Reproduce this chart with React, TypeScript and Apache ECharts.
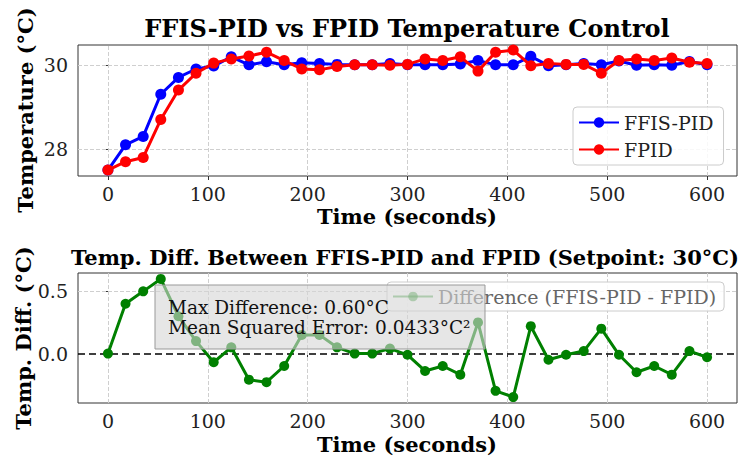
import React, { useEffect, useRef } from "react";
import * as echarts from "echarts";

const times = [0, 17.6, 35.3, 52.9, 70.6, 88.2, 105.9, 123.5, 141.2, 158.8, 176.5, 194.1, 211.8, 229.4, 247.1, 264.7, 282.4, 300, 317.6, 335.3, 352.9, 370.6, 388.2, 405.9, 423.5, 441.2, 458.8, 476.5, 494.1, 511.8, 529.4, 547.1, 564.7, 582.4, 600];
const ffisPid = [27.5, 28.1, 28.3, 29.3, 29.7, 29.9, 29.97, 30.19, 30.0, 30.07, 30.0, 30.05, 30.03, 30.01, 30.0, 30.0, 30.03, 30.0, 30.0, 30.0, 30.02, 30.1, 30.0, 30.0, 30.2, 29.98, 30.0, 30.03, 30.0, 30.09, 29.99, 30.0, 29.99, 30.08, 30.0];
const fpid = [27.5, 27.7, 27.8, 28.7, 29.4, 29.8, 30.04, 30.14, 30.21, 30.3, 30.1, 29.9, 29.88, 29.96, 30.0, 30.0, 29.99, 30.01, 30.14, 30.1, 30.19, 29.85, 30.3, 30.35, 29.98, 30.03, 30.01, 30.01, 29.8, 30.1, 30.14, 30.1, 30.16, 30.06, 30.03];
const difference = [0, 0.4, 0.5, 0.6, 0.3, 0.1, -0.07, 0.05, -0.21, -0.23, -0.1, 0.15, 0.15, 0.05, 0.0, 0.0, 0.04, -0.01, -0.14, -0.1, -0.17, 0.25, -0.3, -0.35, 0.22, -0.05, -0.01, 0.02, 0.2, -0.01, -0.15, -0.1, -0.17, 0.02, -0.03];

const xTicks = [0, 100, 200, 300, 400, 500, 600];
const topYTicks = [28, 30];
const bottomYTicks = [0, 0.5];

const FONT = '"DejaVu Serif", serif';

export default function App() {
  const ref = useRef<HTMLDivElement>(null);
  useEffect(() => {
    if (!ref.current) return;
    const chart = echarts.init(ref.current, null, { renderer: "svg" });

    const gridLine = { type: "dashed", color: "#cfcfcf", width: 1 };
    const mkGrid = (yTicks: number[]) => ({
      silent: true,
      symbol: "none",
      label: { show: false },
      lineStyle: gridLine,
      emphasis: { disabled: true },
      data: [
        ...xTicks.map((v) => ({ xAxis: v })),
        ...yTicks.map((v) => ({ yAxis: v })),
      ],
    });

    const axisLabel = { fontFamily: FONT, fontSize: 19, color: "#222" };
    const xAxisBase = {
      type: "value",
      min: -30,
      max: 630,
      axisLine: { show: false },
      axisTick: { show: true, length: 4, lineStyle: { color: "#333" }, customValues: xTicks },
      axisLabel: { ...axisLabel, margin: 8, customValues: xTicks },
      splitLine: { show: false },
    };

    chart.setOption({
      animation: false,
      backgroundColor: "#fff",
      grid: [
        { left: 78, top: 45, width: 659, height: 131, show: true, borderColor: "#333", borderWidth: 1, backgroundColor: "transparent" },
        { left: 78, top: 273, width: 659, height: 130, show: true, borderColor: "#333", borderWidth: 1, backgroundColor: "transparent" },
      ],
      xAxis: [
        { ...xAxisBase, gridIndex: 0 },
        { ...xAxisBase, gridIndex: 1 },
      ],
      yAxis: [
        {
          type: "value",
          gridIndex: 0,
          min: 27.36,
          max: 30.47,
          axisLine: { show: false },
          axisTick: { show: true, length: 4, lineStyle: { color: "#333" }, customValues: topYTicks },
          axisLabel: { ...axisLabel, margin: 10, customValues: topYTicks },
          splitLine: { show: false },
        },
        {
          type: "value",
          gridIndex: 1,
          min: -0.3975,
          max: 0.6475,
          axisLine: { show: false },
          axisTick: { show: true, length: 4, lineStyle: { color: "#333" }, customValues: bottomYTicks },
          axisLabel: { ...axisLabel, margin: 10, customValues: bottomYTicks, formatter: (v: number) => v.toFixed(1) },
          splitLine: { show: false },
        },
      ],
      legend: [
        {
          z: 20,
          left: 573,
          top: 107,
          orient: "vertical",
          itemWidth: 40,
          itemHeight: 13,
          itemGap: 8,
          padding: [6, 10, 6, 5],
          backgroundColor: "rgba(255,255,255,0.85)",
          borderColor: "#cccccc",
          borderWidth: 1,
          borderRadius: 4,
          textStyle: { fontFamily: FONT, fontSize: 19, color: "#222" },
          data: ["FFIS-PID", "FPID"],
        },
        {
          z: 20,
          left: 387,
          top: 282,
          itemWidth: 40,
          itemHeight: 12,
          padding: [5, 8, 5, 5],
          backgroundColor: "rgba(255,255,255,0.85)",
          borderColor: "#cccccc",
          borderWidth: 1,
          borderRadius: 4,
          textStyle: { fontFamily: FONT, fontSize: 19, color: "#666" },
          itemStyle: { opacity: 0.55 },
          lineStyle: { opacity: 0.55 },
          data: ["Difference (FFIS-PID - FPID)"],
        },
      ],
      series: [
        {
          name: "FFIS-PID",
          type: "line",
          xAxisIndex: 0,
          yAxisIndex: 0,
          z: 10,
          data: times.map((t, i) => [t, ffisPid[i]]),
          symbol: "circle",
          symbolSize: 11,
          lineStyle: { color: "#0000ff", width: 3 },
          itemStyle: { color: "#0000ff" },
          markLine: mkGrid(topYTicks),
        },
        {
          name: "FPID",
          type: "line",
          xAxisIndex: 0,
          yAxisIndex: 0,
          z: 11,
          data: times.map((t, i) => [t, fpid[i]]),
          symbol: "circle",
          symbolSize: 11,
          lineStyle: { color: "#ff0000", width: 3 },
          itemStyle: { color: "#ff0000" },
        },
        {
          name: "Difference (FFIS-PID - FPID)",
          type: "line",
          xAxisIndex: 1,
          yAxisIndex: 1,
          z: 10,
          data: times.map((t, i) => [t, difference[i]]),
          symbol: "circle",
          symbolSize: 10,
          lineStyle: { color: "#008000", width: 3 },
          itemStyle: { color: "#008000" },
          markLine: {
            ...mkGrid(bottomYTicks),
            data: [
              ...xTicks.map((v) => ({ xAxis: v })),
              ...bottomYTicks.filter((v) => v !== 0).map((v) => ({ yAxis: v })),
              { yAxis: 0, lineStyle: { type: [7, 4], color: "#000", width: 1.6 } },
            ],
          },
        },
      ],
      graphic: [
        {
          type: "text",
          z: 40,
          x: 407,
          y: 28,
          style: { text: "FFIS-PID vs FPID Temperature Control", font: `bold 24px ${FONT}`, fill: "#000", align: "center", verticalAlign: "middle" },
        },
        {
          type: "text",
          z: 40,
          x: 407,
          y: 216,
          style: { text: "Time (seconds)", font: `bold 21px ${FONT}`, fill: "#000", align: "center", verticalAlign: "middle" },
        },
        {
          type: "text",
          z: 40,
          x: 25,
          y: 110,
          rotation: Math.PI / 2,
          style: { text: "Temperature (°C)", font: `bold 21px ${FONT}`, fill: "#000", align: "center", verticalAlign: "middle" },
        },
        {
          type: "text",
          z: 40,
          x: 405,
          y: 257,
          style: { text: "Temp. Diff. Between FFIS-PID and FPID (Setpoint: 30°C)", font: `bold 21px ${FONT}`, fill: "#000", align: "center", verticalAlign: "middle" },
        },
        {
          type: "text",
          z: 40,
          x: 407,
          y: 444,
          style: { text: "Time (seconds)", font: `bold 21px ${FONT}`, fill: "#000", align: "center", verticalAlign: "middle" },
        },
        {
          type: "text",
          z: 40,
          x: 23,
          y: 338,
          rotation: Math.PI / 2,
          style: { text: "Temp. Diff. (°C)", font: `bold 21px ${FONT}`, fill: "#000", align: "center", verticalAlign: "middle" },
        },
        {
          type: "rect",
          z: 30,
          shape: { x: 155, y: 285, width: 330, height: 64 },
          style: { fill: "rgba(214,214,214,0.6)", stroke: "#999", lineWidth: 1 },
        },
        {
          type: "text",
          z: 31,
          x: 168,
          y: 307,
          style: { text: "Max Difference: 0.60°C", font: `18.5px ${FONT}`, fill: "#111", align: "left", verticalAlign: "middle" },
        },
        {
          type: "text",
          z: 31,
          x: 168,
          y: 327,
          style: { text: "Mean Squared Error: 0.0433°C²", font: `18.5px ${FONT}`, fill: "#111", align: "left", verticalAlign: "middle" },
        },
      ],
    });
    return () => chart.dispose();
  }, []);
  return <div ref={ref} style={{ width: 742, height: 457, position: "absolute", left: 0, top: 0 }} />;
}
